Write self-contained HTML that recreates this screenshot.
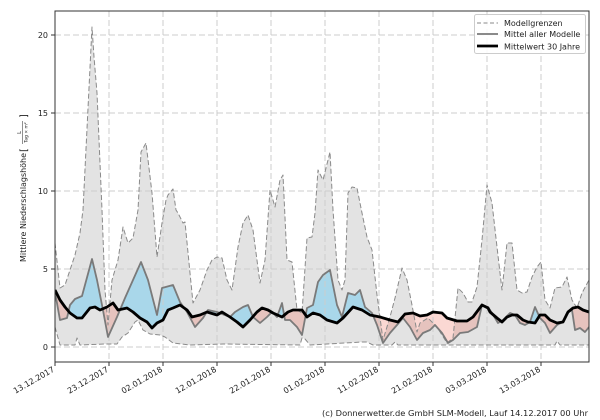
<!DOCTYPE html>
<html><head><meta charset="utf-8"><style>
html,body{margin:0;padding:0;background:#fff;}
svg{display:block;font-family:"DejaVu Sans","Liberation Sans",sans-serif;}
</style></head><body>
<svg width="600" height="420" viewBox="0 0 600 420" xmlns="http://www.w3.org/2000/svg">
<defs>
<clipPath id="plot"><rect x="55" y="11" width="534" height="351"/></clipPath>
<clipPath id="above"><path d="M55,0 L55,290 L60,300 L65,307 L70,313 L77,318 L82,318 L90,308 L95,307 L100,310 L107,307 L113,303 L118,310 L127,308 L133,312 L140,318 L147,322 L152,328 L157,323 L163,320 L168,310 L173,308 L180,305 L187,310 L192,317 L200,315 L207,312 L217,315 L222,312 L230,317 L237,322 L243,327 L250,320 L257,312 L262,308 L268,310 L273,313 L282,317 L288,312 L293,310 L302,310 L307,317 L313,313 L320,315 L327,320 L337,323 L343,318 L353,307 L362,310 L370,315 L380,317 L390,320 L398,322 L405,314 L413,313 L420,316 L427,315 L433,312 L442,313 L447,318 L457,321 L467,321 L473,317 L482,305 L488,308 L490,312 L497,318 L502,322 L507,317 L512,315 L517,315 L523,320 L528,322 L535,323 L540,315 L545,315 L550,320 L557,323 L563,322 L568,312 L573,308 L578,307 L583,310 L589,312 L589,0 Z"/></clipPath>
<clipPath id="below"><path d="M55,420 L55,290 L60,300 L65,307 L70,313 L77,318 L82,318 L90,308 L95,307 L100,310 L107,307 L113,303 L118,310 L127,308 L133,312 L140,318 L147,322 L152,328 L157,323 L163,320 L168,310 L173,308 L180,305 L187,310 L192,317 L200,315 L207,312 L217,315 L222,312 L230,317 L237,322 L243,327 L250,320 L257,312 L262,308 L268,310 L273,313 L282,317 L288,312 L293,310 L302,310 L307,317 L313,313 L320,315 L327,320 L337,323 L343,318 L353,307 L362,310 L370,315 L380,317 L390,320 L398,322 L405,314 L413,313 L420,316 L427,315 L433,312 L442,313 L447,318 L457,321 L467,321 L473,317 L482,305 L488,308 L490,312 L497,318 L502,322 L507,317 L512,315 L517,315 L523,320 L528,322 L535,323 L540,315 L545,315 L550,320 L557,323 L563,322 L568,312 L573,308 L578,307 L583,310 L589,312 L589,420 Z"/></clipPath>
<path id="band" d="M55,292 L60,320 L67,318 L70,305 L75,299 L82,296 L92,259 L97,280 L102,305 L108,337 L117,317 L125,298 L133,280 L141,262 L148,280 L157,315 L162,288 L173,285 L180,302 L187,312 L195,327 L203,318 L208,310 L217,312 L230,317 L235,312 L243,307 L248,305 L253,317 L260,323 L267,317 L272,312 L277,317 L282,303 L285,320 L290,320 L297,327 L302,335 L307,308 L313,305 L318,282 L323,275 L330,270 L337,305 L342,317 L348,293 L355,295 L360,290 L365,307 L372,313 L377,325 L383,343 L390,333 L397,325 L403,318 L410,327 L417,340 L423,333 L430,330 L435,325 L442,333 L448,343 L453,340 L460,333 L468,332 L477,327 L482,305 L488,307 L492,313 L498,323 L503,320 L510,313 L515,315 L520,323 L525,325 L530,322 L535,307 L540,318 L545,323 L550,333 L557,325 L563,322 L567,313 L572,310 L575,330 L580,328 L585,332 L589,327 L589,312 L583,310 L578,307 L573,308 L568,312 L563,322 L557,323 L550,320 L545,315 L540,315 L535,323 L528,322 L523,320 L517,315 L512,315 L507,317 L502,322 L497,318 L490,312 L488,308 L482,305 L473,317 L467,321 L457,321 L447,318 L442,313 L433,312 L427,315 L420,316 L413,313 L405,314 L398,322 L390,320 L380,317 L370,315 L362,310 L353,307 L343,318 L337,323 L327,320 L320,315 L313,313 L307,317 L302,310 L293,310 L288,312 L282,317 L273,313 L268,310 L262,308 L257,312 L250,320 L243,327 L237,322 L230,317 L222,312 L217,315 L207,312 L200,315 L192,317 L187,310 L180,305 L173,308 L168,310 L163,320 L157,323 L152,328 L147,322 L140,318 L133,312 L127,308 L118,310 L113,303 L107,307 L100,310 L95,307 L90,308 L82,318 L77,318 L70,313 L65,307 L60,300 L55,290 Z"/>
</defs>

<g clip-path="url(#plot)">
<!-- model range fill -->
<path fill="#e3e3e3" d="M55,243 L60,288 L65,285 L70,270 L75,255 L80,233 L83,210 L92,27 L94,57 L97,93 L102,210 L105,290 L108,325 L112,280 L118,260 L123,227 L128,243 L133,238 L138,210 L141,152 L146,143 L152,193 L157,257 L162,223 L166,200 L168,195 L173,189 L176,210 L178,213 L183,223 L185,222 L190,273 L193,303 L200,290 L207,270 L212,260 L217,257 L222,258 L227,280 L232,290 L238,247 L243,223 L248,215 L253,230 L260,283 L265,260 L270,190 L275,207 L280,180 L283,175 L287,260 L292,262 L297,310 L302,313 L307,238 L312,237 L315,213 L318,170 L323,180 L330,152 L333,210 L338,280 L342,290 L345,280 L348,193 L352,187 L357,188 L362,213 L367,237 L372,250 L377,295 L383,340 L390,317 L395,298 L402,268 L407,280 L412,305 L417,332 L420,323 L428,318 L437,327 L447,343 L453,338 L458,288 L463,293 L468,302 L472,302 L477,287 L482,240 L487,185 L492,203 L497,247 L502,290 L507,243 L512,243 L517,290 L522,293 L527,292 L532,277 L537,267 L541,262 L545,300 L550,308 L555,288 L562,287 L567,277 L572,300 L577,308 L582,293 L589,280 L589,345 L560,345 L557,341 L555,345 L398,345 L395,342 L392,345 L373,345 L367,342 L362,342 L310,345 L305,339 L302,338 L300,345 L223,344 L190,345 L173,343 L165,337 L160,335 L150,334 L143,330 L138,320 L135,322 L128,333 L122,337 L117,344 L105,344 L80,345 L77,338 L75,345 L60,345 L55,327 Z"/>

<!-- between model mean and 30y mean -->
<g clip-path="url(#above)"><use href="#band" fill="#a9d7ea"/></g>
<g clip-path="url(#below)"><use href="#band" fill="#f06450" fill-opacity="0.25"/></g>
</g>

<!-- grid -->
<g stroke="#cccccc" stroke-width="1" stroke-dasharray="6,3" fill="none">
<line x1="55" y1="347" x2="589" y2="347"/><line x1="55" y1="269" x2="589" y2="269"/><line x1="55" y1="191" x2="589" y2="191"/><line x1="55" y1="113" x2="589" y2="113"/><line x1="55" y1="35" x2="589" y2="35"/>
<line x1="109" y1="11" x2="109" y2="362"/><line x1="163" y1="11" x2="163" y2="362"/><line x1="217" y1="11" x2="217" y2="362"/><line x1="271" y1="11" x2="271" y2="362"/><line x1="325" y1="11" x2="325" y2="362"/><line x1="379" y1="11" x2="379" y2="362"/><line x1="433" y1="11" x2="433" y2="362"/><line x1="487" y1="11" x2="487" y2="362"/><line x1="541" y1="11" x2="541" y2="362"/>
</g>

<g clip-path="url(#plot)" fill="none" stroke-linejoin="round">
<path stroke="#8a8a8a" stroke-width="1" stroke-dasharray="5,2.5" d="M55,243 L60,288 L65,285 L70,270 L75,255 L80,233 L83,210 L92,27 L94,57 L97,93 L102,210 L105,290 L108,325 L112,280 L118,260 L123,227 L128,243 L133,238 L138,210 L141,152 L146,143 L152,193 L157,257 L162,223 L166,200 L168,195 L173,189 L176,210 L178,213 L183,223 L185,222 L190,273 L193,303 L200,290 L207,270 L212,260 L217,257 L222,258 L227,280 L232,290 L238,247 L243,223 L248,215 L253,230 L260,283 L265,260 L270,190 L275,207 L280,180 L283,175 L287,260 L292,262 L297,310 L302,313 L307,238 L312,237 L315,213 L318,170 L323,180 L330,152 L333,210 L338,280 L342,290 L345,280 L348,193 L352,187 L357,188 L362,213 L367,237 L372,250 L377,295 L383,340 L390,317 L395,298 L402,268 L407,280 L412,305 L417,332 L420,323 L428,318 L437,327 L447,343 L453,338 L458,288 L463,293 L468,302 L472,302 L477,287 L482,240 L487,185 L492,203 L497,247 L502,290 L507,243 L512,243 L517,290 L522,293 L527,292 L532,277 L537,267 L541,262 L545,300 L550,308 L555,288 L562,287 L567,277 L572,300 L577,308 L582,293 L589,280"/>
<path stroke="#8a8a8a" stroke-width="1" stroke-dasharray="5,2.5" d="M55,327 L60,345 L75,345 L77,338 L80,345 L105,344 L117,344 L122,337 L128,333 L135,322 L138,320 L143,330 L150,334 L160,335 L165,337 L173,343 L190,345 L223,344 L300,345 L302,338 L305,339 L310,345 L362,342 L367,342 L373,345 L392,345 L395,342 L398,345 L555,345 L557,341 L560,345 L589,345"/>
<path stroke="#7a7a7a" stroke-width="1.8" d="M55,292 L60,320 L67,318 L70,305 L75,299 L82,296 L92,259 L97,280 L102,305 L108,337 L117,317 L125,298 L133,280 L141,262 L148,280 L157,315 L162,288 L173,285 L180,302 L187,312 L195,327 L203,318 L208,310 L217,312 L230,317 L235,312 L243,307 L248,305 L253,317 L260,323 L267,317 L272,312 L277,317 L282,303 L285,320 L290,320 L297,327 L302,335 L307,308 L313,305 L318,282 L323,275 L330,270 L337,305 L342,317 L348,293 L355,295 L360,290 L365,307 L372,313 L377,325 L383,343 L390,333 L397,325 L403,318 L410,327 L417,340 L423,333 L430,330 L435,325 L442,333 L448,343 L453,340 L460,333 L468,332 L477,327 L482,305 L488,307 L492,313 L498,323 L503,320 L510,313 L515,315 L520,323 L525,325 L530,322 L535,307 L540,318 L545,323 L550,333 L557,325 L563,322 L567,313 L572,310 L575,330 L580,328 L585,332 L589,327"/>
<path stroke="#000" stroke-width="2.8" d="M55,290 L60,300 L65,307 L70,313 L77,318 L82,318 L90,308 L95,307 L100,310 L107,307 L113,303 L118,310 L127,308 L133,312 L140,318 L147,322 L152,328 L157,323 L163,320 L168,310 L173,308 L180,305 L187,310 L192,317 L200,315 L207,312 L217,315 L222,312 L230,317 L237,322 L243,327 L250,320 L257,312 L262,308 L268,310 L273,313 L282,317 L288,312 L293,310 L302,310 L307,317 L313,313 L320,315 L327,320 L337,323 L343,318 L353,307 L362,310 L370,315 L380,317 L390,320 L398,322 L405,314 L413,313 L420,316 L427,315 L433,312 L442,313 L447,318 L457,321 L467,321 L473,317 L482,305 L488,308 L490,312 L497,318 L502,322 L507,317 L512,315 L517,315 L523,320 L528,322 L535,323 L540,315 L545,315 L550,320 L557,323 L563,322 L568,312 L573,308 L578,307 L583,310 L589,312"/>
</g>

<!-- axes -->
<rect x="55" y="11" width="534" height="351" fill="none" stroke="#333" stroke-width="1"/>
<g stroke="#333" stroke-width="1">
<line x1="51" y1="347" x2="55" y2="347"/><line x1="51" y1="269" x2="55" y2="269"/><line x1="51" y1="191" x2="55" y2="191"/><line x1="51" y1="113" x2="55" y2="113"/><line x1="51" y1="35" x2="55" y2="35"/>
<line x1="55" y1="362" x2="55" y2="366"/><line x1="109" y1="362" x2="109" y2="366"/><line x1="163" y1="362" x2="163" y2="366"/><line x1="217" y1="362" x2="217" y2="366"/><line x1="271" y1="362" x2="271" y2="366"/><line x1="325" y1="362" x2="325" y2="366"/><line x1="379" y1="362" x2="379" y2="366"/><line x1="433" y1="362" x2="433" y2="366"/><line x1="487" y1="362" x2="487" y2="366"/><line x1="541" y1="362" x2="541" y2="366"/>
</g>
<g font-size="8" fill="#222" text-anchor="end">
<text x="48" y="350">0</text><text x="48" y="272">5</text><text x="48" y="194">10</text><text x="48" y="116">15</text><text x="48" y="38">20</text>
</g>
<g font-size="8" fill="#222" text-anchor="end">
<text transform="translate(55,371) rotate(-30)">13.12.2017</text>
<text transform="translate(109,371) rotate(-30)">23.12.2017</text>
<text transform="translate(163,371) rotate(-30)">02.01.2018</text>
<text transform="translate(217,371) rotate(-30)">12.01.2018</text>
<text transform="translate(271,371) rotate(-30)">22.01.2018</text>
<text transform="translate(325,371) rotate(-30)">01.02.2018</text>
<text transform="translate(379,371) rotate(-30)">11.02.2018</text>
<text transform="translate(433,371) rotate(-30)">21.02.2018</text>
<text transform="translate(487,371) rotate(-30)">03.03.2018</text>
<text transform="translate(541,371) rotate(-30)">13.03.2018</text>
</g>

<!-- y label -->
<g transform="translate(26,262) rotate(-90)" fill="#222">
<text x="0" y="0" font-size="8" textLength="109" lengthAdjust="spacingAndGlyphs">Mittlere Niederschlagshöhe</text>
<text x="110" y="1" font-size="10">[</text>
<text x="129.5" y="-5" font-size="5" text-anchor="middle">L</text>
<line x1="118" y1="-3.5" x2="141" y2="-3.5" stroke="#222" stroke-width="0.5"/>
<text x="129.5" y="1.5" font-size="4.5" text-anchor="middle">Tag × m²</text>
<text x="144" y="1" font-size="10">]</text>
</g>

<!-- legend -->
<rect x="474.5" y="14.5" width="111" height="39" rx="2" fill="#fff" fill-opacity="0.9" stroke="#cccccc" stroke-width="1"/>
<line x1="477" y1="23" x2="498" y2="23" stroke="#8a8a8a" stroke-width="1" stroke-dasharray="4,2.5"/>
<line x1="477" y1="34" x2="498" y2="34" stroke="#7a7a7a" stroke-width="1.8"/>
<line x1="477" y1="46" x2="498" y2="46" stroke="#000" stroke-width="2.8"/>
<g font-size="8" fill="#222">
<text x="504" y="26">Modellgrenzen</text>
<text x="504" y="37">Mittel aller Modelle</text>
<text x="504" y="49.5">Mittelwert 30 Jahre</text>
</g>

<text x="588" y="416" font-size="8" fill="#222" text-anchor="end" textLength="266" lengthAdjust="spacingAndGlyphs">(c) Donnerwetter.de GmbH SLM-Modell, Lauf 14.12.2017 00 Uhr</text>
</svg>
</body></html>
